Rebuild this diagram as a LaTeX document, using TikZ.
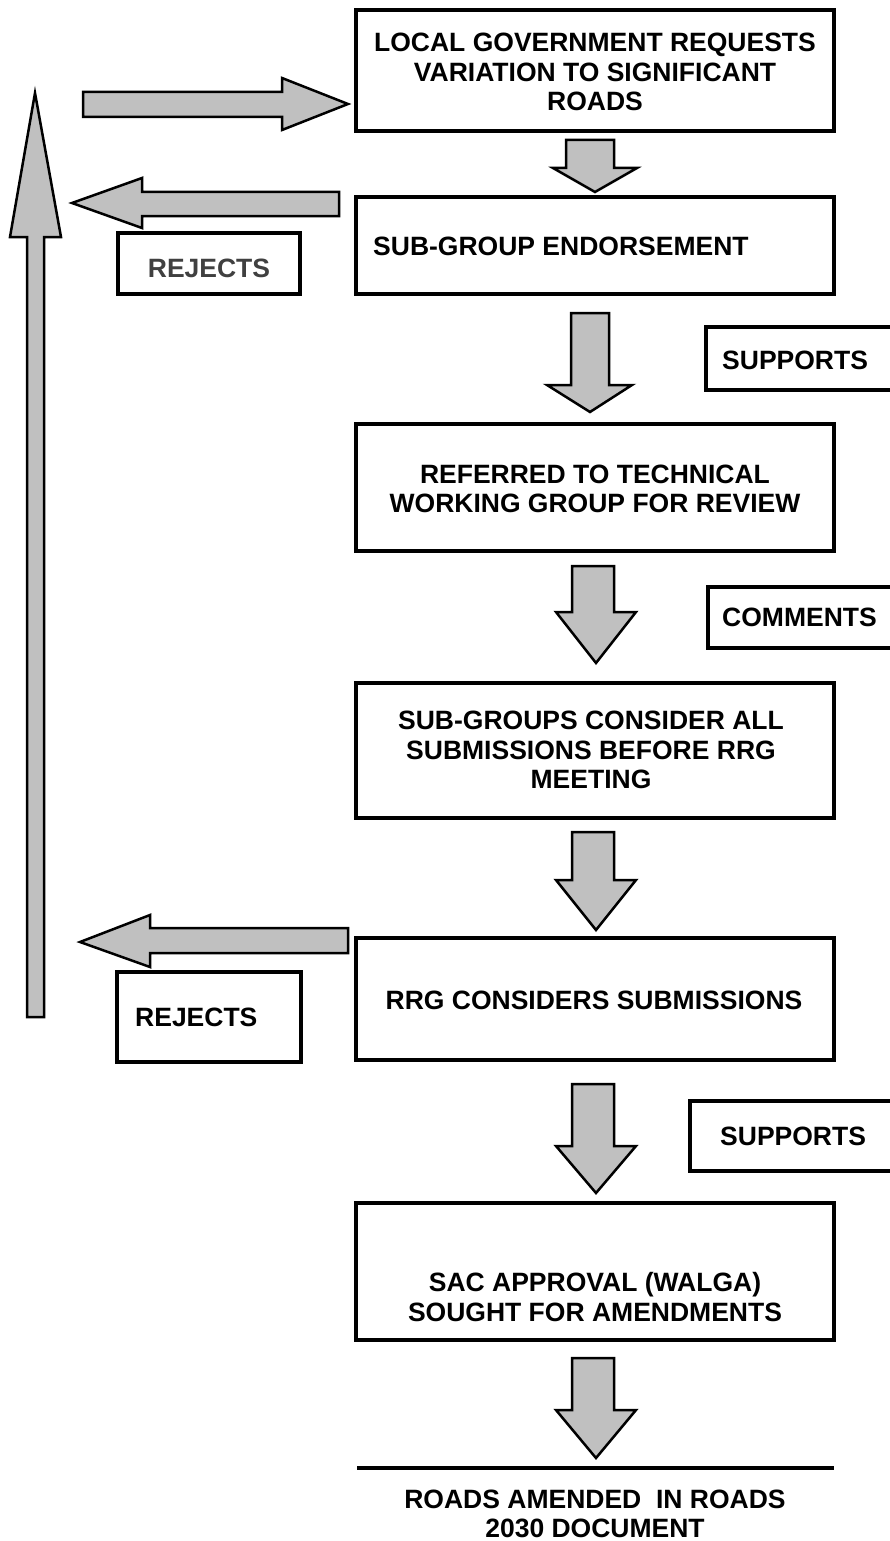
\documentclass[tikz,border=0pt]{standalone}
\usepackage{fontspec}
\setmainfont{Liberation Sans}
\begin{document}
\begin{tikzpicture}[x=1pt,y=-1pt,
  box/.style={draw=black,line width=4pt,fill=white},
  lbl/.style={draw=black,line width=4pt,fill=white},
  txt/.style={font=\fontsize{26.5}{29.5}\selectfont\bfseries,align=center,inner sep=0pt},
  blk/.style={draw=black,line width=2.5pt,fill={rgb,255:red,192;green,192;blue,192},line join=miter}]
\useasboundingbox (0,0) rectangle (889,1541);
% main boxes
\draw[box] (356,10) rectangle (834,131);
\draw[box] (356,197) rectangle (834,294);
\draw[box] (356,424) rectangle (834,551);
\draw[box] (356,683) rectangle (834,818);
\draw[box] (356,938) rectangle (834,1060);
\draw[box] (356,1203) rectangle (834,1340);
\draw[line width=4pt] (357,1468) -- (834,1468);
% label boxes
\draw[lbl] (118,233) rectangle (300,294);
\draw[lbl] (706,327) rectangle (895,390);
\draw[lbl] (708,587) rectangle (895,648);
\draw[lbl] (117,972) rectangle (301,1062);
\draw[lbl] (690,1101) rectangle (895,1171);
% texts
\node[txt] (t1) at (595,72) {LOCAL GOVERNMENT REQUESTS\\VARIATION TO SIGNIFICANT\\ROADS};
\node[txt,anchor=west] (t2) at (373,246) {SUB-GROUP ENDORSEMENT};
\node[txt] (t3) at (595,489) {REFERRED TO TECHNICAL\\WORKING GROUP FOR REVIEW};
\node[txt] (t4) at (591,750) {SUB-GROUPS CONSIDER ALL\\SUBMISSIONS BEFORE RRG\\MEETING};
\node[txt] (t5) at (594,1000) {RRG CONSIDERS SUBMISSIONS};
\node[txt] (t6) at (595,1297) {SAC APPROVAL (WALGA)\\SOUGHT FOR AMENDMENTS};
\node[txt] (t7) at (595,1514) {ROADS AMENDED\ \ IN ROADS\\2030 DOCUMENT};
\node[txt,text={rgb,255:red,64;green,64;blue,64}] (r1) at (209,268) {REJECTS};
\node[txt,anchor=west] (s1) at (722,360) {SUPPORTS};
\node[txt,anchor=west] (c1) at (722,617) {COMMENTS};
\node[txt,anchor=west] (r2) at (135,1017) {REJECTS};
\node[txt,anchor=west] (s2) at (720,1136) {SUPPORTS};
% down block arrows
\draw[blk] (566,140) -- (614,140) -- (614,168) -- (637,168) -- (595,192) -- (553,168) -- (566,168) -- cycle;
\draw[blk] (571,313) -- (609,313) -- (609,385) -- (632,385) -- (590,412) -- (547,385) -- (571,385) -- cycle;
\draw[blk] (572,566) -- (614,566) -- (614,612) -- (636,612) -- (596,663) -- (556,612) -- (572,612) -- cycle;
\draw[blk] (572,832) -- (614,832) -- (614,880) -- (636,880) -- (596,930) -- (556,880) -- (572,880) -- cycle;
\draw[blk] (572,1084) -- (614,1084) -- (614,1146) -- (636,1146) -- (596,1193) -- (556,1146) -- (572,1146) -- cycle;
\draw[blk] (572,1358) -- (614,1358) -- (614,1410) -- (636,1410) -- (596,1458) -- (556,1410) -- (572,1410) -- cycle;
% right arrow to box1
\draw[blk] (83,92) -- (282,92) -- (282,78) -- (348,104) -- (282,130) -- (282,117) -- (83,117) -- cycle;
% left arrows
\draw[blk] (339,192) -- (142,192) -- (142,178) -- (72,203) -- (142,228) -- (142,216) -- (339,216) -- cycle;
\draw[blk] (348,928) -- (150,928) -- (150,915) -- (80,942) -- (150,967) -- (150,953) -- (348,953) -- cycle;
% up arrow
\draw[blk] (27,1017) -- (27,237) -- (10,237) -- (35,93) -- (61,237) -- (44,237) -- (44,1017) -- cycle;
\end{tikzpicture}
\end{document}
